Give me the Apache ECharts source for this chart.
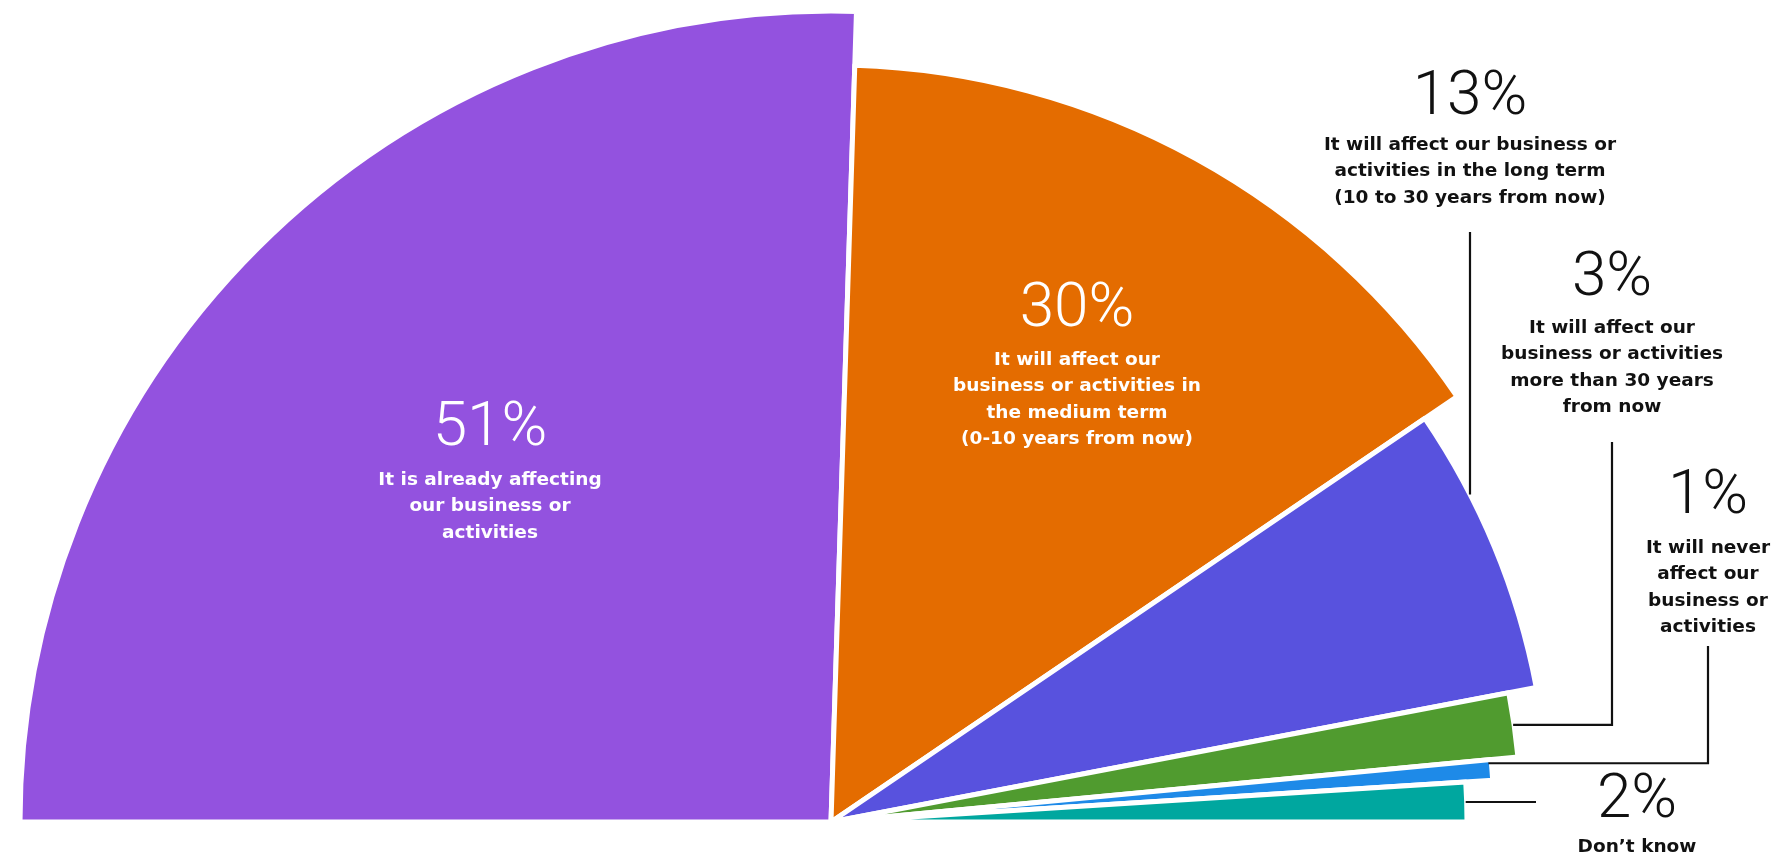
<!DOCTYPE html>
<html>
<head>
<meta charset="utf-8">
<script src="https://cdn.jsdelivr.net/npm/echarts@6/dist/echarts.min.js"></script>
<style>
  html, body { margin: 0; padding: 0; background: #ffffff; }
  #chart { width: 1776px; height: 861px; }
</style>
</head>
<body>
<div id="chart"></div>
<script>
// Survey answers: when will this affect the business?
const categories = [
  'It is already affecting our business or activities',
  'It will affect our business or activities in the medium term (0-10 years from now)',
  'It will affect our business or activities in the long term (10 to 30 years from now)',
  'It will affect our business or activities more than 30 years from now',
  'It will never affect our business or activities',
  "Don\u2019t know"
];
const values = [51, 30, 13, 3, 1, 2];
const labelLines = [
  ['It is already affecting', 'our business or', 'activities'],
  ['It will affect our', 'business or activities in', 'the medium term', '(0-10 years from now)'],
  ['It will affect our business or', 'activities in the long term', '(10 to 30 years from now)'],
  ['It will affect our', 'business or activities', 'more than 30 years', 'from now'],
  ['It will never', 'affect our', 'business or', 'activities'],
  ["Don\u2019t know"]
];

// Styling and layout
const colors = ['#9352DF', '#E46C00', '#5852DE', '#509B2F', '#1E8AE8', '#00A79F'];
const cx = 831, cy = 822;
const radii = [811, 757, 718, 690, 663, 636];
const pctFont = '300 62px Roboto, "Liberation Sans", sans-serif';
const txtFont = 'bold 18.5px "DejaVu Sans", "Liberation Sans", Arial, sans-serif';
const lineH = 26.5;

// label anchor positions: [x, percent y, first text line y]
const labelPos = [
  [490, 429, 480],
  [1077, 310, 360],
  [1470, 98, 145],
  [1612, 279, 328],
  [1708, 497, 548],
  [1637, 801, 847]
];

const total = values.reduce((a, b) => a + b, 0);
const sliceAngles = [];
let cum = 0;
values.forEach(v => {
  const a0 = 180 - cum / total * 180;
  cum += v;
  const a1 = 180 - cum / total * 180;
  sliceAngles.push({ start: a0, end: a1, mid: (a0 + a1) / 2 });
});
function arcPoint(r, deg) {
  const t = deg * Math.PI / 180;
  return [cx + r * Math.cos(t), cy - r * Math.sin(t)];
}

// one pie layer per slice so each slice can have its own radius
const series = values.map((v, i) => ({
  type: 'pie',
  center: [cx, cy],
  radius: [0, radii[i]],
  startAngle: 180,
  endAngle: 0,
  clockwise: true,
  silent: true,
  animation: false,
  label: { show: false },
  labelLine: { show: false },
  emphasis: { disabled: true },
  data: values.map((val, j) => ({
    name: categories[j],
    value: val,
    itemStyle: j === i
      ? { color: colors[j], borderColor: '#ffffff', borderWidth: 5 }
      : { color: 'rgba(0,0,0,0)', borderWidth: 0 }
  }))
}));

const graphics = [];
values.forEach((v, i) => {
  const inside = i < 2;
  const fill = inside ? '#ffffff' : '#111111';
  const [x, py, ty] = labelPos[i];
  graphics.push({
    type: 'text', z: 10,
    style: { text: v + '%', x: x, y: py, font: pctFont, fill: fill,
             align: 'center', verticalAlign: 'middle', textAlign: 'center', textVerticalAlign: 'middle' }
  });
  graphics.push({
    type: 'text', z: 10,
    style: { text: labelLines[i].join('\n'), x: x, y: ty - lineH / 2, font: txtFont, fill: fill,
             lineHeight: lineH, align: 'center', verticalAlign: 'top', textAlign: 'center', textVerticalAlign: 'top' }
  });
});

// leader lines
const lineStyle = { stroke: '#111111', lineWidth: 2.2, fill: null };
// 13%: straight drop onto the arc
(function () {
  const x = labelPos[2][0];
  const r = radii[2];
  const y = cy - Math.sqrt(r * r - (x - cx) * (x - cx));
  graphics.push({ type: 'polyline', z: 5, shape: { points: [[x, 232], [x, y]] }, style: lineStyle });
})();
// 3%: elbow line from the middle of the slice edge
(function () {
  const p = arcPoint(radii[3], sliceAngles[3].mid);
  const x = labelPos[3][0];
  graphics.push({ type: 'polyline', z: 5, shape: { points: [[p[0] - 1, p[1]], [x, p[1]], [x, 442]] }, style: lineStyle });
})();
// 1%: elbow line from the upper corner of the thin slice
(function () {
  const p = arcPoint(radii[4] - 2, sliceAngles[4].start - 0.3);
  const x = labelPos[4][0];
  graphics.push({ type: 'polyline', z: 5, shape: { points: [[p[0] - 1, p[1]], [x, p[1]], [x, 646]] }, style: lineStyle });
})();
// 2%: short horizontal tick
(function () {
  const p = arcPoint(radii[5], sliceAngles[5].mid);
  graphics.push({ type: 'polyline', z: 5, shape: { points: [[p[0] - 1, p[1]], [1536, p[1]]] }, style: lineStyle });
})();

const chart = echarts.init(document.getElementById('chart'), null, { renderer: 'canvas' });
chart.setOption({
  backgroundColor: '#ffffff',
  animation: false,
  series: series,
  graphic: { elements: graphics }
});
</script>
</body>
</html>
